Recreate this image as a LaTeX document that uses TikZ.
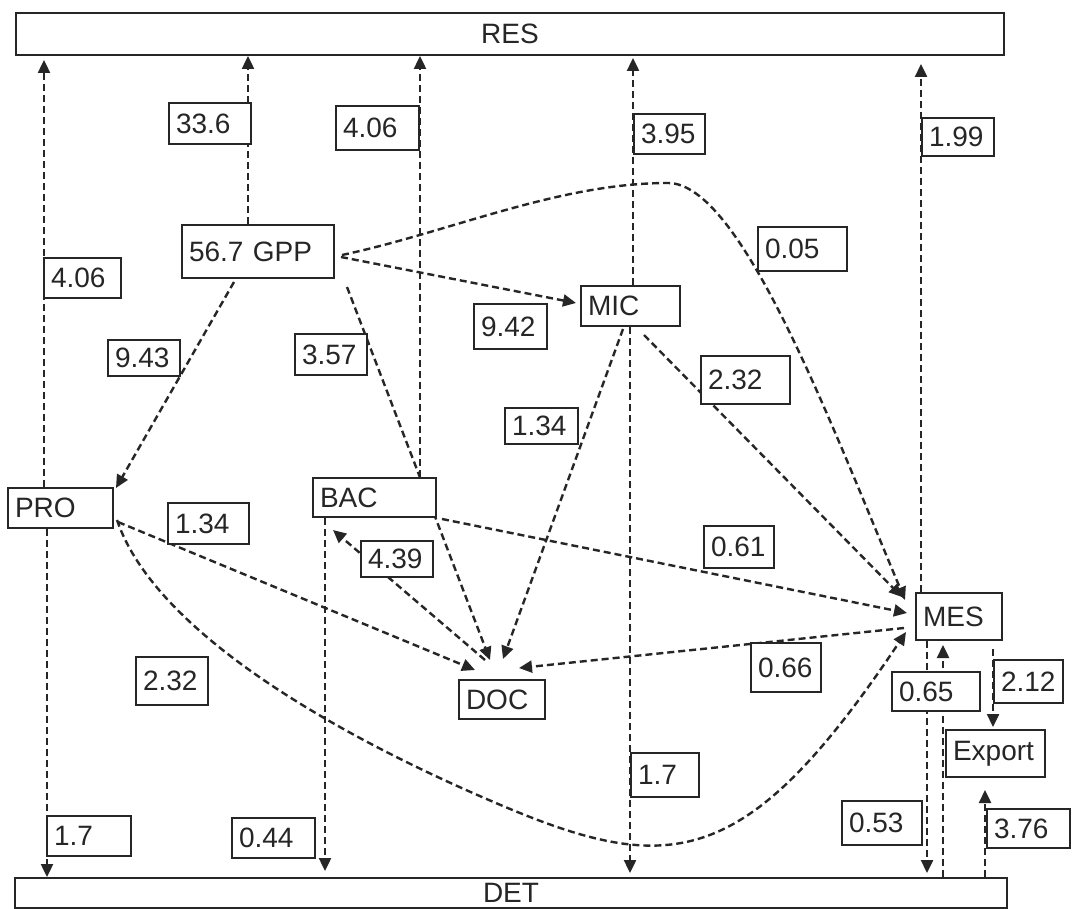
\documentclass[tikz,border=0pt]{standalone}
\usepackage{fontspec}
\setmainfont{Liberation Sans}
\usetikzlibrary{arrows.meta,calc}
\pgfdeclarelayer{back}
\pgfdeclarelayer{bg}
\pgfsetlayers{back,bg,main}
\begin{document}
\begin{tikzpicture}[x=1pt,y=-1pt,
  box/.style={draw=black!85, line width=2pt, fill=white, anchor=north west,
    inner xsep=7pt, inner ysep=0pt, align=left, text=black!85,
    font=\fontsize{28}{32}\selectfont},
  flow/.style={draw=black!85, line width=2.4pt, dash pattern=on 7pt off 4pt,
    -{Triangle[length=13pt,width=12pt]}}]
\useasboundingbox (0,0) rectangle (1073,909);
\begin{pgfonlayer}{back}
\fill[white] (0,0) rectangle (1073,909);
\end{pgfonlayer}

% compartments
\node[box, align=center, text width=974pt, minimum height=42pt] (res) at (15,12) {RES};
\node[box, align=center, text width=978pt, minimum height=30pt] (det) at (14,877) {\raisebox{-5pt}{DET}};
\node[box, text width=138pt, minimum height=53pt] (gpp) at (181,224) {56.7 GPP};
\node[box, text width=85pt, minimum height=40pt] (mic) at (580,285) {MIC};
\node[box, text width=91pt, minimum height=40pt] (pro) at (7,487) {PRO};
\node[box, text width=109pt, minimum height=39pt] (bac) at (312,477) {BAC};
\node[box, text width=72pt, minimum height=47pt] (mes) at (915,592) {MES};
\node[box, text width=72pt, minimum height=39pt] (doc) at (458,679) {DOC};
\node[box, text width=85pt, minimum height=47pt] (export) at (945,729) {Export};

% flow labels
\node[box, text width=68pt, minimum height=41pt] (l336) at (168,102) {33.6};
\node[box, text width=69pt, minimum height=44pt] (l406b) at (335,105) {4.06};
\node[box, text width=63pt, minimum height=40pt] (l406a) at (43,257) {4.06};
\node[box, text width=57pt, minimum height=40pt] (l395) at (633,113) {3.95};
\node[box, text width=58pt, minimum height=38pt] (l199) at (921,117) {1.99};
\node[box, text width=75pt, minimum height=44pt] (l005) at (757,226) {0.05};
\node[box, text width=59pt, minimum height=45pt] (l942) at (473,303) {9.42};
\node[box, text width=58pt, minimum height=36pt] (l943) at (107,339) {9.43};
\node[box, text width=58pt, minimum height=41pt] (l357) at (294,333) {3.57};
\node[box, text width=59pt, minimum height=36pt] (l134b) at (504,407) {1.34};
\node[box, text width=75pt, minimum height=48pt] (l232b) at (700,355) {2.32};
\node[box, text width=67pt, minimum height=41pt] (l134a) at (167,502) {1.34};
\node[box, text width=58pt, minimum height=36pt] (l439) at (360,540) {4.39};
\node[box, text width=56pt, minimum height=42pt] (l061) at (703,525) {0.61};
\node[box, text width=56pt, minimum height=49pt] (l066) at (750,642) {0.66};
\node[box, text width=74pt, minimum height=39pt] (l065) at (891,671) {0.65};
\node[box, text width=55pt, minimum height=43pt] (l212) at (993,659) {2.12};
\node[box, text width=54pt, minimum height=44pt] (l17b) at (630,752) {1.7};
\node[box, text width=66pt, minimum height=44pt] (l053) at (841,800) {0.53};
\node[box, text width=69pt, minimum height=39pt] (l376) at (986,808) {3.76};
\node[box, text width=70pt, minimum height=40pt] (l17a) at (46,815) {1.7};
\node[box, text width=69pt, minimum height=40pt] (l044) at (231,817) {0.44};
\node[box, text width=58pt, minimum height=48pt] (l232a) at (135,656) {2.32};

\begin{pgfonlayer}{bg}
% to RES
\draw[flow] ($(pro.north west)+(37,0)$) -- ($(res.south west)+(29,4)$);
\draw[flow] ($(gpp.north west)+(67,0)$) -- ($(res.south west)+(233,0)$);
\draw[flow] ($(bac.north west)+(108,0)$) -- ($(res.south west)+(405,0)$);
\draw[flow] ($(mic.north west)+(53,0)$) -- ($(res.south west)+(618,2)$);
\draw[flow] ($(mes.north west)+(6,0)$) -- ($(res.south west)+(906,8)$);
% from GPP
\draw[flow] ($(gpp.north east)+(6,33)$) -- ($(mic.west)+(-4,-3)$);
\draw[flow] ($(gpp.north east)+(7,31)$) .. controls (450,232) and (558,183) .. (668,183)
  .. controls (740,183) and (827,414) .. ($(mes.north west)+(-10,8)$);
\draw[flow] ($(gpp.south west)+(53,3)$) -- ($(pro.north east)+(2,1)$);
\draw[flow] ($(gpp.south east)+(12,8)$) -- ($(doc.north west)+(32,-19)$);
% from MIC
\draw[flow] ($(mic.south west)+(43,2)$) -- ($(doc.north west)+(45,-20)$);
\draw[flow] ($(mic.south west)+(64,8)$) -- ($(mes.north west)+(-13,5)$);
\draw[flow] ($(mic.south west)+(50,0)$) -- ($(det.north west)+(616,-4)$);
% from PRO
\draw[flow] ($(pro.north east)+(4,35)$) -- ($(doc.north west)+(17,-9)$);
\draw[flow] ($(pro.north east)+(3,33)$) .. controls (156,635) and (344,737) .. (482,797)
  .. controls (665,877) and (741,879) .. ($(mes.south west)+(-9,-9)$);
\draw[flow] ($(pro.south west)+(40,0)$) -- ($(det.north west)+(33,0)$);
% BAC
\draw[flow] ($(doc.north west)+(27,-19)$) -- ($(bac.south west)+(21,12)$);
\draw[flow] ($(bac.south east)+(5,1)$) -- ($(mes.north west)+(-8,21)$);
\draw[flow] ($(bac.south west)+(13,0)$) -- ($(det.north west)+(311,-6)$);
% MES
\draw[flow] ($(mes.north west)+(-11,36)$) -- ($(doc.north east)+(-27,-11)$);
\draw[flow] ($(mes.south west)+(12,0)$) -- ($(det.north west)+(913,-4)$);
\draw[flow] ($(det.north west)+(929,0)$) -- ($(mes.south west)+(28,4)$);
\draw[flow] ($(mes.south west)+(78,8)$) -- ($(export.north west)+(48,-2)$);
\draw[flow] ($(det.north west)+(971,0)$) -- ($(export.south west)+(40,12)$);
\end{pgfonlayer}
\end{tikzpicture}
\end{document}
